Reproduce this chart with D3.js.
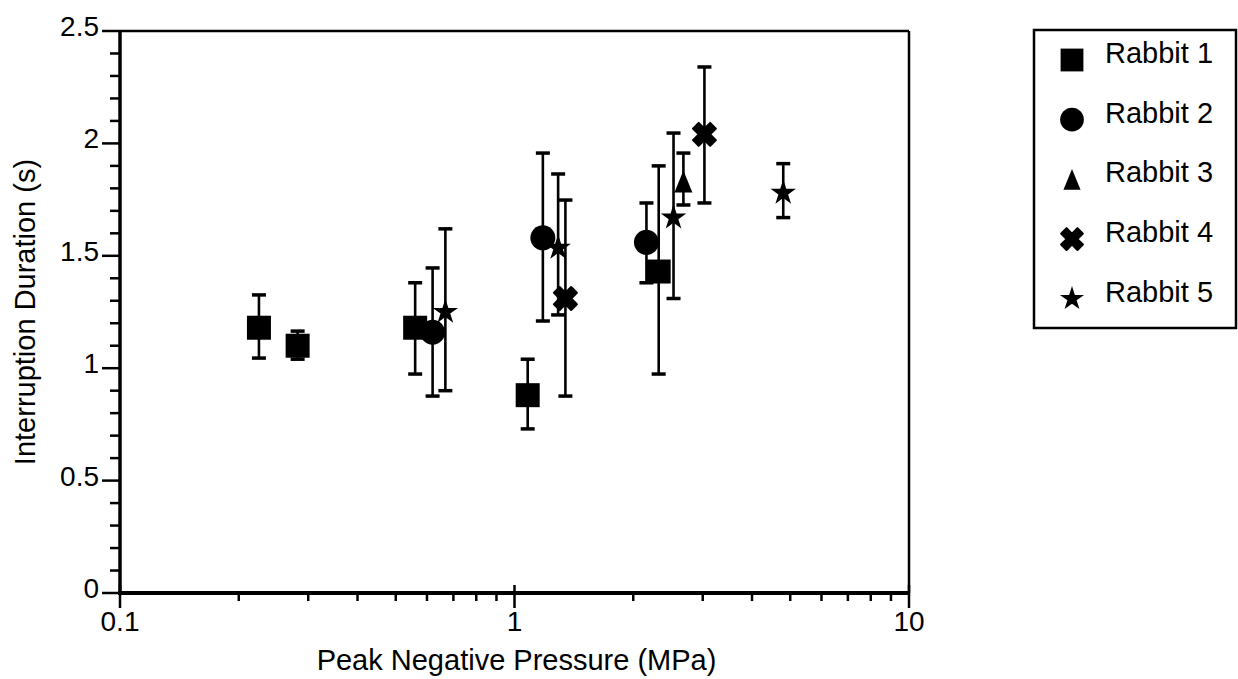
<!DOCTYPE html>
<html>
<head>
<meta charset="utf-8">
<script src="https://cdn.jsdelivr.net/npm/d3@7/dist/d3.min.js"></script>
<style>
  body { margin: 0; background: #fff; }
  svg { display: block; font-family: "Liberation Sans", Arial, Helvetica, sans-serif; }
</style>
</head>
<body>
<div id="chart"></div>
<script>
// Chart size
const width = 1238;
const height = 679;

// Series data: pressure (MPa), mean duration (s), error bar low/high
const rabbits = ["Rabbit 1", "Rabbit 2", "Rabbit 3", "Rabbit 4", "Rabbit 5"];

const r1X = [0.225, 0.282, 0.56, 1.08, 2.32];
const r1Y = [1.18, 1.10, 1.18, 0.88, 1.43];
const r1Lo = [1.045, 1.04, 0.974, 0.73, 0.974];
const r1Hi = [1.326, 1.165, 1.38, 1.04, 1.90];

const r2X = [0.62, 1.18, 2.16];
const r2Y = [1.16, 1.58, 1.56];
const r2Lo = [0.876, 1.21, 1.38];
const r2Hi = [1.446, 1.957, 1.735];

const r3X = [2.68];
const r3Y = [1.83];
const r3Lo = [1.726];
const r3Hi = [1.957];

const r4X = [1.346, 3.03];
const r4Y = [1.31, 2.04];
const r4Lo = [0.876, 1.735];
const r4Hi = [1.748, 2.34];

const r5X = [0.668, 1.29, 2.53, 4.8];
const r5Y = [1.25, 1.535, 1.67, 1.78];
const r5Lo = [0.90, 1.237, 1.31, 1.67];
const r5Hi = [1.62, 1.864, 2.046, 1.91];

const yTickLabels = ["0", "0.5", "1", "1.5", "2", "2.5"];
const xTickLabels = ["0.1", "1", "10"];

// Build point lists from the arrays
const seriesArrays = [
  [r1X, r1Y, r1Lo, r1Hi],
  [r2X, r2Y, r2Lo, r2Hi],
  [r3X, r3Y, r3Lo, r3Hi],
  [r4X, r4Y, r4Lo, r4Hi],
  [r5X, r5Y, r5Lo, r5Hi]
];
const series = seriesArrays.map((s, i) => ({
  name: rabbits[i],
  points: s[0].map((x, j) => ({ x: x, y: s[1][j], lo: s[2][j], hi: s[3][j] }))
}));

// Plot area
const plotLeft = 120, plotRight = 909, plotTop = 31, plotBottom = 593;

const x = d3.scaleLog().domain([0.1, 10]).range([plotLeft, plotRight]);
const y = d3.scaleLinear().domain([0, 2.5]).range([plotBottom, plotTop]);

const svg = d3.select("#chart")
              .append("svg")
              .attr("width", width)
              .attr("height", height);

// Marker shapes, one per rabbit
function crossPath(size) {
  return d3.symbol().type(d3.symbolCross).size(size)();
}
function trianglePath(w, h) {
  return `M0,${-h / 2}L${w / 2},${h / 2}L${-w / 2},${h / 2}Z`;
}
const markers = [
  (g, s) => g.append("rect").attr("x", -12 * s).attr("y", -12 * s).attr("width", 24 * s).attr("height", 24 * s),
  (g, s) => g.append("circle").attr("r", 12.5 * s),
  (g, s) => g.append("path").attr("d", trianglePath(18 * s, 22 * s)),
  (g, s) => g.append("path").attr("d", crossPath(330 * s * s)).attr("transform", "rotate(45)")
             .attr("stroke", "#000").attr("stroke-width", 2).attr("stroke-linejoin", "round"),
  (g, s) => g.append("path").attr("d", d3.symbol().type(d3.symbolStar).size(200 * s * s)())
];

// Axis frame: thin top/right, heavier left/bottom
svg.append("line").attr("x1", plotLeft).attr("x2", plotRight).attr("y1", plotTop).attr("y2", plotTop)
   .attr("stroke", "#000").attr("stroke-width", 2.5);
svg.append("line").attr("x1", plotRight).attr("x2", plotRight).attr("y1", plotTop).attr("y2", plotBottom)
   .attr("stroke", "#000").attr("stroke-width", 2.5);

// Y axis with minor ticks every 0.1
const yMinor = d3.range(0, 2.51, 0.1).map(v => +v.toFixed(2));
const yAxisG = svg.append("g").attr("stroke", "#000");
yAxisG.selectAll("line.minor")
      .data(yMinor)
      .enter().append("line")
      .attr("x1", d => (Math.round(d * 10) % 5 === 0) ? plotLeft - 18 : plotLeft - 10)
      .attr("x2", plotLeft)
      .attr("y1", d => y(d))
      .attr("y2", d => y(d))
      .attr("stroke-width", 2.5);
yAxisG.append("line").attr("x1", plotLeft).attr("x2", plotLeft).attr("y1", plotTop - 1).attr("y2", plotBottom + 2)
      .attr("stroke-width", 3.5);

svg.append("g").selectAll("text")
   .data(yTickLabels)
   .enter().append("text")
   .attr("x", plotLeft - 21)
   .attr("y", d => y(+d) + 5)
   .attr("text-anchor", "end")
   .attr("font-size", 28)
   .text(d => d);

// X axis (log) with minor ticks 2..9 in each decade
const xMinor = [];
[0.1, 1].forEach(dec => { for (let k = 2; k <= 9; k++) xMinor.push(+(dec * k).toFixed(2)); });
const xAxisG = svg.append("g").attr("stroke", "#000");
xAxisG.selectAll("line.minor")
      .data(xMinor)
      .enter().append("line")
      .attr("x1", d => x(d)).attr("x2", d => x(d))
      .attr("y1", plotBottom).attr("y2", plotBottom + 8)
      .attr("stroke-width", 2.5);
xAxisG.selectAll("line.major")
      .data(xTickLabels)
      .enter().append("line")
      .attr("x1", d => x(+d)).attr("x2", d => x(+d))
      .attr("y1", plotBottom - 8).attr("y2", plotBottom + 15)
      .attr("stroke-width", 2.5);
xAxisG.append("line").attr("x1", plotLeft - 2).attr("x2", plotRight + 1).attr("y1", plotBottom).attr("y2", plotBottom)
      .attr("stroke-width", 4);

svg.append("g").selectAll("text")
   .data(xTickLabels)
   .enter().append("text")
   .attr("x", d => x(+d))
   .attr("y", 631)
   .attr("text-anchor", "middle")
   .attr("font-size", 28)
   .text(d => d);

// Axis titles
svg.append("text")
   .attr("x", (plotLeft + plotRight) / 2 + 2)
   .attr("y", 670)
   .attr("text-anchor", "middle")
   .attr("font-size", 29)
   .text("Peak Negative Pressure (MPa)");

svg.append("text")
   .attr("transform", `translate(25,${(plotTop + plotBottom) / 2}) rotate(-90)`)
   .attr("dy", "0.35em")
   .attr("text-anchor", "middle")
   .attr("font-size", 29)
   .text("Interruption Duration (s)");

// Error bars then markers
const capHalf = 7;
series.forEach(s => {
  const g = svg.append("g").attr("stroke", "#000").attr("stroke-width", 2.6);
  const bars = g.selectAll("g.bar").data(s.points).enter().append("g");
  bars.append("line")
      .attr("x1", d => x(d.x)).attr("x2", d => x(d.x))
      .attr("y1", d => y(d.lo)).attr("y2", d => y(d.hi));
  bars.append("line")
      .attr("x1", d => x(d.x) - capHalf).attr("x2", d => x(d.x) + capHalf)
      .attr("y1", d => y(d.lo)).attr("y2", d => y(d.lo)).attr("stroke-width", 3.5);
  bars.append("line")
      .attr("x1", d => x(d.x) - capHalf).attr("x2", d => x(d.x) + capHalf)
      .attr("y1", d => y(d.hi)).attr("y2", d => y(d.hi)).attr("stroke-width", 3.5);
});
series.forEach((s, i) => {
  s.points.forEach(d => {
    const g = svg.append("g").attr("transform", `translate(${x(d.x)},${y(d.y)})`).attr("fill", "#000");
    markers[i](g, 1);
  });
});

// Legend
const legend = svg.append("g");
legend.append("rect")
      .attr("x", 1034).attr("y", 30)
      .attr("width", 202).attr("height", 298)
      .attr("fill", "none").attr("stroke", "#000").attr("stroke-width", 2.5);
rabbits.forEach((name, i) => {
  const base = 63 + i * 59.7;
  const g = legend.append("g").attr("transform", `translate(1072,${base - 3})`).attr("fill", "#000");
  markers[i](g, 0.95);
  legend.append("text")
        .attr("x", 1105).attr("y", base)
        .attr("font-size", 29)
        .text(name);
});
</script>
</body>
</html>
